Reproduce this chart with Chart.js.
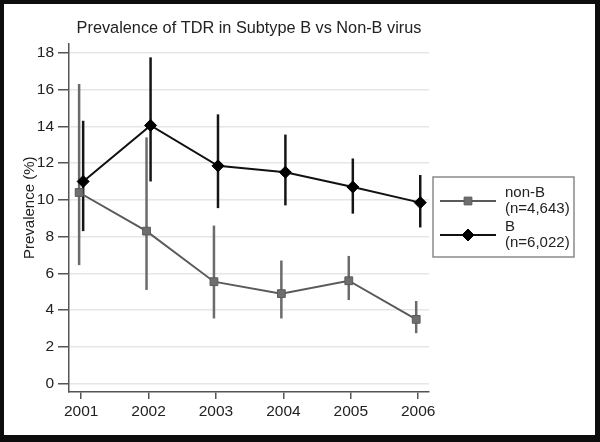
<!DOCTYPE html>
<html>
<head>
<meta charset="utf-8">
<title>Prevalence of TDR</title>
<script src="https://cdn.jsdelivr.net/npm/chart.js@4"></script>
<style>
  html, body { margin: 0; padding: 0; background: #fff; }
  #frame { width: 600px; height: 442px; box-sizing: border-box; background: #0d0d0d; padding: 4px 5px 7px 4px; }
  #wrap { width: 591px; height: 431px; background: #fff; }
</style>
</head>
<body>
<div id="frame"><div id="wrap"><canvas id="tdrChart" width="591" height="431"></canvas></div></div>
<script>
// ── Data ── //
const years = [2001, 2002, 2003, 2004, 2005, 2006];
const nonBValues = [10.4, 8.3, 5.55, 4.9, 5.6, 3.5];
const nonBLower = [6.45, 5.1, 3.55, 3.55, 4.55, 2.75];
const nonBUpper = [16.3, 13.4, 8.6, 6.7, 6.95, 4.5];
const bValues = [11.0, 14.05, 11.85, 11.5, 10.7, 9.85];
const bLower = [8.3, 11.0, 9.55, 9.7, 9.25, 8.5];
const bUpper = [14.3, 17.75, 14.65, 13.55, 12.25, 11.35];
const yTicks = [0, 2, 4, 6, 8, 10, 12, 14, 16, 18];
const seriesNames = ['non-B', 'B'];
const seriesCounts = ['(n=4,643)', '(n=6,022)'];
const yTitle = 'Prevalence (%)';

const FONT = 'Liberation Sans, Arial, sans-serif';
const DODGE = 0.03; // small horizontal offset so the two series don't overlap

// ── Error bars (drawn under lines and markers) ── //
const errorBars = {
  id: 'errorBars',
  beforeDatasetsDraw(chart) {
    const { ctx, scales: { x, y } } = chart;
    chart.data.datasets.forEach((ds) => {
      ctx.save();
      ctx.strokeStyle = ds.barColor;
      ctx.lineWidth = 2.5;
      ds.data.forEach((pt, i) => {
        const px = x.getPixelForValue(pt.x);
        ctx.beginPath();
        ctx.moveTo(px, y.getPixelForValue(ds.lower[i]));
        ctx.lineTo(px, y.getPixelForValue(ds.upper[i]));
        ctx.stroke();
      });
      ctx.restore();
    });
  }
};

// ── Y axis title (sits a little above the axis middle, like the original) ── //
const yAxisTitle = {
  id: 'yAxisTitle',
  afterDraw(chart) {
    const { ctx, chartArea } = chart;
    ctx.save();
    ctx.translate(26, (chartArea.top + chartArea.bottom) / 2 - 10);
    ctx.rotate(-Math.PI / 2);
    ctx.fillStyle = '#222';
    ctx.font = '15px ' + FONT;
    ctx.textAlign = 'center';
    ctx.textBaseline = 'middle';
    ctx.fillText(yTitle, 0, 0);
    ctx.restore();
  }
};

// ── Boxed legend with two-line labels ── //
const boxLegend = {
  id: 'boxLegend',
  afterDraw(chart) {
    const { ctx, chartArea } = chart;
    const left = chartArea.right + 4;
    const top = 173;
    const w = 141, h = 80;
    ctx.save();
    ctx.strokeStyle = '#8a8a8a';
    ctx.lineWidth = 1.5;
    ctx.strokeRect(left, top, w, h);
    chart.data.datasets.forEach((ds, i) => {
      const ly = top + 24 + i * 34;
      ctx.strokeStyle = ds.borderColor;
      ctx.lineWidth = 2;
      ctx.beginPath();
      ctx.moveTo(left + 7, ly);
      ctx.lineTo(left + 63, ly);
      ctx.stroke();
      ctx.fillStyle = ds.pointBackgroundColor;
      ctx.strokeStyle = ds.pointBorderColor;
      ctx.lineWidth = 1;
      Chart.helpers.drawPoint(ctx, { pointStyle: ds.pointStyle, radius: ds.pointRadius, borderWidth: 1 }, left + 35, ly);
      ctx.fillStyle = '#222';
      ctx.font = '15px ' + FONT;
      ctx.textAlign = 'left';
      ctx.textBaseline = 'middle';
      ctx.fillText(seriesNames[i], left + 72, ly - 8);
      ctx.fillText(seriesCounts[i], left + 72, ly + 8);
    });
    ctx.restore();
  }
};

new Chart(document.getElementById('tdrChart'), {
  type: 'line',
  data: {
    datasets: [
      {
        label: seriesNames[0],
        data: years.map((yr, i) => ({ x: yr - DODGE, y: nonBValues[i] })),
        lower: nonBLower,
        upper: nonBUpper,
        barColor: '#6b6b6b',
        borderColor: '#5a5a5a',
        borderWidth: 2,
        pointStyle: 'rect',
        pointRadius: 5.5,
        pointBackgroundColor: '#6e6e6e',
        pointBorderColor: '#5a5a5a',
        pointBorderWidth: 1,
        tension: 0,
      },
      {
        label: seriesNames[1],
        data: years.map((yr, i) => ({ x: yr + DODGE, y: bValues[i] })),
        lower: bLower,
        upper: bUpper,
        barColor: '#151515',
        borderColor: '#111',
        borderWidth: 2,
        pointStyle: 'rectRot',
        pointRadius: 6,
        pointBackgroundColor: '#000',
        pointBorderColor: '#000',
        pointBorderWidth: 1,
        tension: 0,
      },
    ],
  },
  options: {
    responsive: false,
    animation: false,
    layout: { padding: { left: 0, right: 166, top: 0, bottom: 0 } },
    scales: {
      x: {
        type: 'linear',
        min: 2000.82,
        max: 2006.16,
        afterBuildTicks: (axis) => { axis.ticks = years.map(v => ({ value: v })); },
        afterFit: (axis) => { axis.height = 43; },
        grid: { drawOnChartArea: false, tickColor: '#555', tickLength: 7, lineWidth: 1.5 },
        border: { color: '#555', width: 1.5 },
        ticks: {
          autoSkip: false,
          maxRotation: 0,
          padding: 3,
          color: '#222',
          font: { family: FONT, size: 15.5 },
          callback: (v) => String(v),
        },
      },
      y: {
        type: 'linear',
        min: -0.45,
        max: 18.5,
        afterBuildTicks: (axis) => { axis.ticks = yTicks.map(v => ({ value: v })); },
        afterFit: (axis) => { axis.width = 65; },
        grid: { color: '#e6e6e6', lineWidth: 1.5, tickColor: '#555', tickLength: 11 },
        border: { color: '#555', width: 1.5 },
        ticks: {
          padding: 4,
          color: '#222',
          font: { family: FONT, size: 15.5 },
        },
      },
    },
    plugins: {
      legend: { display: false },
      tooltip: { enabled: false },
      title: {
        display: true,
        text: 'Prevalence of TDR in Subtype B vs Non-B virus',
        fullSize: false,
        color: '#222',
        font: { family: FONT, size: 16.3, weight: 'normal' },
        padding: { top: 15, bottom: 5 },
      },
    },
  },
  plugins: [errorBars, yAxisTitle, boxLegend],
});
</script>
</body>
</html>
